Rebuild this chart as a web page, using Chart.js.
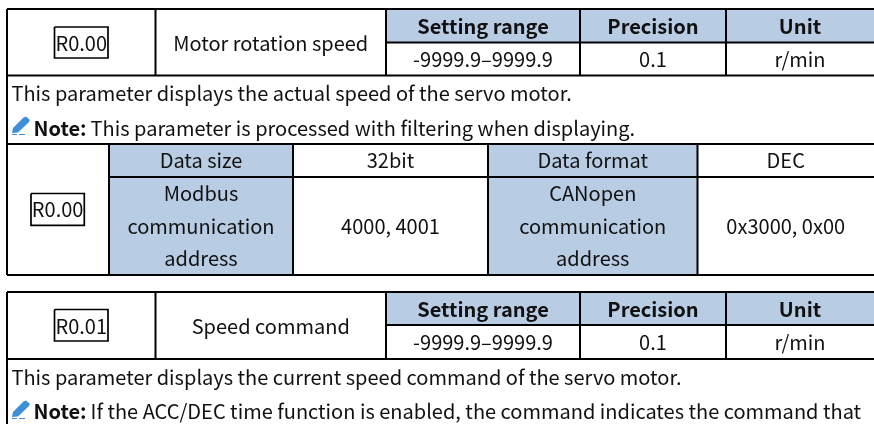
<!DOCTYPE html>
<html>
<head>
<meta charset="utf-8">
<style>
  html, body { margin: 0; padding: 0; background: #fff; overflow: hidden; }
  canvas { display: block; }
</style>
<script src="https://cdn.jsdelivr.net/npm/chart.js@4"></script>
</head>
<body>
<canvas id="myChart" width="874" height="424"></canvas>
<script>
// table texts
var parameterCodes = ['R0.00', 'R0.01'];
var parameterNames = ['Motor rotation speed', 'Speed command'];
var headerLabels = ['Setting range', 'Precision', 'Unit'];
var headerValues = ['-9999.9\u20139999.9', '0.1', 'r/min'];
var descriptions = [
    'This parameter displays the actual speed of the servo motor.',
    'This parameter displays the current speed command of the servo motor.'
];
var noteLabel = 'Note:';
var notes = [
    'This parameter is processed with filtering when displaying.',
    'If the ACC/DEC time function is enabled, the command indicates the command that'
];
var detailRowOne = ['Data size', '32bit', 'Data format', 'DEC'];
var modbusLabel = ['Modbus', 'communication', 'address'];
var canopenLabel = ['CANopen', 'communication', 'address'];
var detailValues = ['4000, 4001', '0x3000, 0x00'];

// table geometry, in the page's own units (the axes run 0-874 and 0-424)
var gridX = { left: 7, code: 155.5, range: 386, precision: 580, unit: 726, right: 874 };
var detailX = { code: 109, label: 293, value: 488, label2: 697.5 };
var blockOneY = { top: 9, mid: 42.5, bottom: 75.5, detailTop: 144, detailMid: 177, detailBottom: 275 };
var blockTwoY = { top: 292, mid: 325, bottom: 359, end: 424 };
var codeBoxes = [
    { x1: 54.5, x2: 108, y1: 27, y2: 58 },
    { x1: 31, x2: 84.3, y1: 193.5, y2: 225.3 },
    { x1: 54.5, x2: 108, y1: 309.5, y2: 341 }
];

var lineColor = '#000000';
var textColor = '#111111';
var headFill = '#b8cce4';
var fontName = '"Noto Sans CJK SC", "Noto Sans", sans-serif';
var fontPx = 20;

function rule(x1, y1, x2, y2, width) {
    return {
        type: 'line',
        data: [{ x: x1, y: y1 }, { x: x2, y: y2 }],
        borderColor: lineColor,
        borderWidth: width || 2,
        pointRadius: 0,
        tension: 0
    };
}

function boxRule(b) {
    return {
        type: 'line',
        data: [{ x: b.x1, y: b.y1 }, { x: b.x2, y: b.y1 }, { x: b.x2, y: b.y2 }, { x: b.x1, y: b.y2 }, { x: b.x1, y: b.y1 }],
        borderColor: lineColor,
        borderWidth: 1.7,
        pointRadius: 0,
        tension: 0
    };
}

function headerBlockRules(y, x) {
    return [
        rule(x.left, y.top, x.right, y.top),
        rule(x.range, y.mid, x.right, y.mid),
        rule(x.left, y.bottom, x.right, y.bottom),
        rule(x.code, y.top, x.code, y.bottom),
        rule(x.range, y.top, x.range, y.bottom),
        rule(x.precision, y.top, x.precision, y.bottom),
        rule(x.unit, y.top, x.unit, y.bottom)
    ];
}

var datasets = [].concat(
    headerBlockRules(blockOneY, gridX),
    headerBlockRules(blockTwoY, gridX),
    [
        rule(gridX.left, blockOneY.top, gridX.left, blockOneY.detailBottom),
        rule(gridX.left, blockTwoY.top, gridX.left, blockTwoY.end),
        rule(gridX.left, blockOneY.detailTop, gridX.right, blockOneY.detailTop),
        rule(detailX.code, blockOneY.detailMid, gridX.right, blockOneY.detailMid),
        rule(gridX.left, blockOneY.detailBottom, gridX.right, blockOneY.detailBottom),
        rule(detailX.code, blockOneY.detailTop, detailX.code, blockOneY.detailBottom),
        rule(detailX.label, blockOneY.detailTop, detailX.label, blockOneY.detailBottom),
        rule(detailX.value, blockOneY.detailTop, detailX.value, blockOneY.detailBottom),
        rule(detailX.label2, blockOneY.detailTop, detailX.label2, blockOneY.detailBottom)
    ],
    codeBoxes.map(boxRule)
);

var tablePlugin = {
    id: 'tableCells',
    beforeDatasetsDraw: function(chart) {
        var ctx = chart.ctx;
        var sx = chart.scales.x, sy = chart.scales.y;
        function cell(x1, y1, x2, y2) {
            var px = sx.getPixelForValue(x1), py = sy.getPixelForValue(y1);
            ctx.fillRect(px, py, sx.getPixelForValue(x2) - px, sy.getPixelForValue(y2) - py);
        }
        ctx.save();
        ctx.fillStyle = headFill;
        cell(gridX.range, blockOneY.top, gridX.right, blockOneY.mid);
        cell(gridX.range, blockTwoY.top, gridX.right, blockTwoY.mid);
        cell(detailX.code, blockOneY.detailTop, detailX.label, blockOneY.detailBottom);
        cell(detailX.value, blockOneY.detailTop, detailX.label2, blockOneY.detailBottom);
        ctx.restore();
    },
    afterDatasetsDraw: function(chart) {
        var ctx = chart.ctx;
        var sx = chart.scales.x, sy = chart.scales.y;
        function put(str, x, y, align, weight) {
            ctx.font = (weight || 'normal') + ' ' + fontPx + 'px ' + fontName;
            ctx.textAlign = align || 'center';
            ctx.fillText(str, sx.getPixelForValue(x), sy.getPixelForValue(y));
        }
        function middle(a, b) { return (a + b) / 2; }
        function headerBlock(i, y, x) {
            put(parameterCodes[i], middle(codeBoxes[i * 2].x1, codeBoxes[i * 2].x2), middle(y.top, y.bottom) + 1);
            put(parameterNames[i], middle(x.code, x.range), middle(y.top, y.bottom) + 1);
            var heads = [middle(x.range, x.precision), middle(x.precision, x.unit), middle(x.unit, x.right)];
            heads.forEach(function(hx, k) {
                put(headerLabels[k], hx, middle(y.top, y.mid) + 1, 'center', 'bold');
                put(headerValues[k], hx, middle(y.mid, y.bottom), 'center');
            });
            put(descriptions[i], 11.5, y.bottom + 18, 'left');
            ctx.font = 'bold ' + fontPx + 'px ' + fontName;
            var w = ctx.measureText(noteLabel).width;
            put(noteLabel, 33.5, y.bottom + 52.5, 'left', 'bold');
            put(notes[i], 33.5 + w + 4, y.bottom + 52.5, 'left');
        }
        function pencil(top) {
            var x0 = sx.getPixelForValue(12), y0 = sy.getPixelForValue(top);
            ctx.save();
            ctx.translate(x0, y0);
            ctx.fillStyle = '#3f8fd8';
            ctx.beginPath();
            ctx.moveTo(0, 16.5); ctx.lineTo(1, 11.5); ctx.lineTo(11.5, 1); ctx.lineTo(14, 0);
            ctx.lineTo(18, 3.5); ctx.lineTo(16.5, 6); ctx.lineTo(6, 16); ctx.closePath();
            ctx.fill();
            ctx.fillRect(0, 17.5, 5, 1);
            ctx.fillRect(7, 17.5, 6, 1);
            ctx.restore();
        }
        ctx.save();
        ctx.fillStyle = textColor;
        ctx.textBaseline = 'middle';
        headerBlock(0, blockOneY, gridX);
        headerBlock(1, blockTwoY, gridX);

        var rowMid = middle(blockOneY.detailTop, blockOneY.detailMid);
        put(detailRowOne[0], middle(detailX.code, detailX.label), rowMid);
        put(detailRowOne[1], middle(detailX.label, detailX.value), rowMid);
        put(detailRowOne[2], middle(detailX.value, detailX.label2), rowMid);
        put(detailRowOne[3], middle(detailX.label2, gridX.right), rowMid);

        var tallMid = middle(blockOneY.detailMid, blockOneY.detailBottom);
        put(parameterCodes[0], middle(codeBoxes[1].x1, codeBoxes[1].x2), middle(codeBoxes[1].y1, codeBoxes[1].y2));
        modbusLabel.forEach(function(t, k) {
            put(t, middle(detailX.code, detailX.label), tallMid + (k - 1) * 32.5);
        });
        canopenLabel.forEach(function(t, k) {
            put(t, middle(detailX.value, detailX.label2), tallMid + (k - 1) * 32.5);
        });
        put(detailValues[0], middle(detailX.label, detailX.value), tallMid);
        put(detailValues[1], middle(detailX.label2, gridX.right), tallMid);

        pencil(116.5);
        pencil(400.5);
        ctx.restore();
    }
};

var ctx = document.getElementById('myChart').getContext('2d');
var myChart = new Chart(ctx, {
    type: 'scatter',
    data: { datasets: datasets },
    options: {
        responsive: false,
        animation: false,
        layout: { padding: 0 },
        clip: false,
        plugins: { legend: { display: false }, tooltip: { enabled: false } },
        scales: {
            x: { type: 'linear', min: 0, max: 874, display: false },
            y: { type: 'linear', min: 0, max: 424, reverse: true, display: false }
        }
    },
    plugins: [tablePlugin]
});
</script>
</body>
</html>
